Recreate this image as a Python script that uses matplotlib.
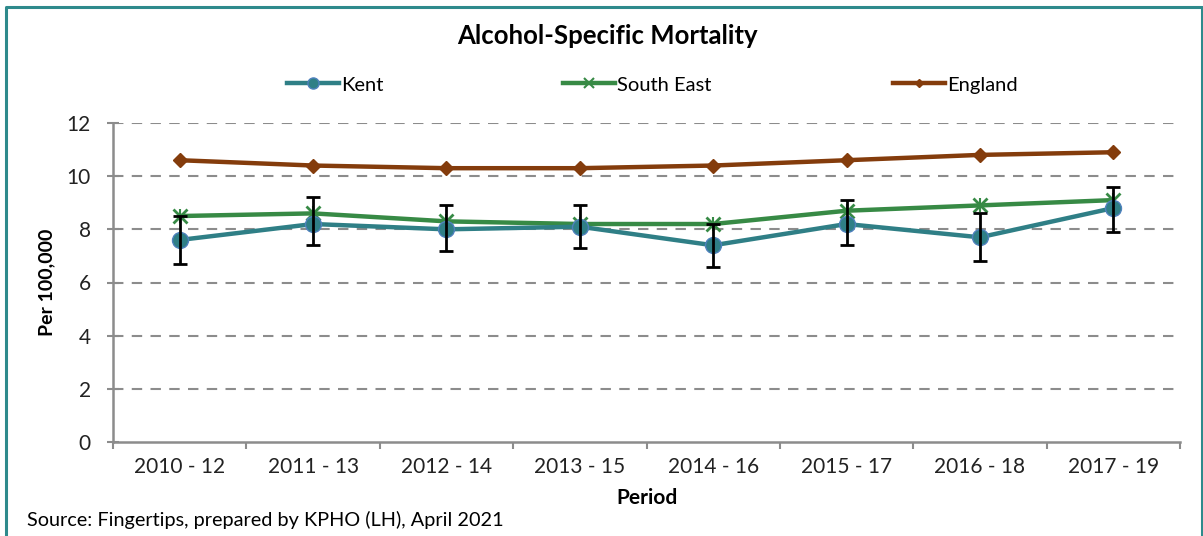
import matplotlib
matplotlib.use("Agg")
import matplotlib.pyplot as plt
from matplotlib.lines import Line2D
import numpy as np

periods = ["2010 - 12", "2011 - 13", "2012 - 14", "2013 - 15",
           "2014 - 16", "2015 - 17", "2016 - 18", "2017 - 19"]
kent = [7.6, 8.2, 8.0, 8.1, 7.4, 8.2, 7.7, 8.8]
kent_lower = [6.7, 7.4, 7.2, 7.3, 6.6, 7.4, 6.8, 7.9]
kent_upper = [8.5, 9.2, 8.9, 8.9, 8.2, 9.1, 8.6, 9.6]
south_east = [8.5, 8.6, 8.3, 8.2, 8.2, 8.7, 8.9, 9.1]
england = [10.6, 10.4, 10.3, 10.3, 10.4, 10.6, 10.8, 10.9]
y_ticks = [0, 2, 4, 6, 8, 10, 12]

FONT = ["Lato", "DejaVu Sans"]
plt.rcParams["font.family"] = FONT

KENT_C = "#2F7F86"
KENT_EDGE = "#4F81BD"
SE_C = "#378A45"
ENG_C = "#843C0C"
GRID_C = "#8C8C8C"
AX_C = "#8C8C8C"

W, H = 1203, 536
fig = plt.figure(figsize=(W / 100, H / 100), dpi=100)

ax = fig.add_axes([113 / W, 1 - 442 / H, (1180 - 113) / W, (442 - 123) / H])
x = np.arange(1, len(periods) + 1)

ax.plot(x, england, color=ENG_C, lw=3.2, marker="D", ms=7, mfc=ENG_C, mec=ENG_C, zorder=3)
ax.plot(x, south_east, color=SE_C, lw=3.2, marker="x", ms=10, mew=2, mec=SE_C, zorder=4)
ax.plot(x, south_east, ls="none", marker="|", ms=10, mew=1.5, mec=SE_C, zorder=4)
ax.plot(x, kent, color=KENT_C, lw=3.2, marker="o", ms=11.5, mfc=KENT_C, mec=KENT_EDGE, mew=1, zorder=5)
err_lo = np.array(kent) - np.array(kent_lower)
err_hi = np.array(kent_upper) - np.array(kent)
ax.errorbar(x, kent, yerr=[err_lo, err_hi], fmt="none", ecolor="black", elinewidth=2, capsize=5, capthick=2, zorder=6)

ax.set_xlim(0.5, len(periods) + 0.5)
ax.set_ylim(0, 12)
ax.set_yticks(y_ticks)
ax.set_yticklabels([str(v) for v in y_ticks], fontsize=15, color="#222222")
for yv in y_ticks[1:]:
    ax.axhline(yv, color=GRID_C, lw=1.5, ls=(0, (5, 4)), zorder=1)

ax.set_xticks(x)
ax.set_xticklabels(periods, fontsize=15, color="#222222")
ax.tick_params(axis="x", which="major", length=0, pad=11)
ax.set_xticks(np.arange(0.5, len(periods) + 1), minor=True)
ax.tick_params(axis="x", which="minor", length=5, width=1.5, color=AX_C, direction="out")
ax.tick_params(axis="y", length=8, width=1.5, color=AX_C, direction="inout", pad=12)

for s in ["top", "right"]:
    ax.spines[s].set_visible(False)
ax.spines["left"].set_color(AX_C)
ax.spines["left"].set_linewidth(1.8)
ax.spines["bottom"].set_color(AX_C)
ax.spines["bottom"].set_linewidth(1.8)

ax.set_ylabel("Per 100,000", fontsize=14, fontweight="bold", labelpad=8)
ax.set_xlabel("Period", fontsize=15, fontweight="bold", labelpad=8)

fig.text(607 / W, 1 - 36 / H, "Alcohol-Specific Mortality", ha="center", va="center",
         fontsize=18.5, fontweight="bold")

handles = [
    Line2D([], [], color=KENT_C, lw=3.2, marker="o", ms=8, mfc=KENT_C, mec=KENT_EDGE),
    Line2D([], [], color=SE_C, lw=3.2, marker="x", ms=7, mew=1.5, mec=SE_C),
    Line2D([], [], color=ENG_C, lw=3.2, marker="D", ms=4, mfc=ENG_C, mec=ENG_C),
]
labels = ["Kent", "South East", "England"]
leg_x = [287, 563, 893]
for hnd, lab, lx in zip(handles, labels, leg_x):
    fig.legend([hnd], [lab], loc="center left", bbox_to_anchor=(lx / W, 1 - 85 / H),
               frameon=False, fontsize=14.5, handlelength=2.6, handletextpad=0.1,
               borderpad=0, borderaxespad=0)

fig.text(27 / W, 1 - 520 / H, "Source: Fingertips, prepared by KPHO (LH), April 2021",
         ha="left", va="center", fontsize=14.3)

border = Line2D([6 / W, 6 / W, 1 - 1 / W, 1 - 1 / W], [0, 1 - 7 / H, 1 - 7 / H, 0],
                transform=fig.transFigure, color="#2E8A8C", lw=2.2)
fig.add_artist(border)

fig.savefig("out.png", dpi=100)
